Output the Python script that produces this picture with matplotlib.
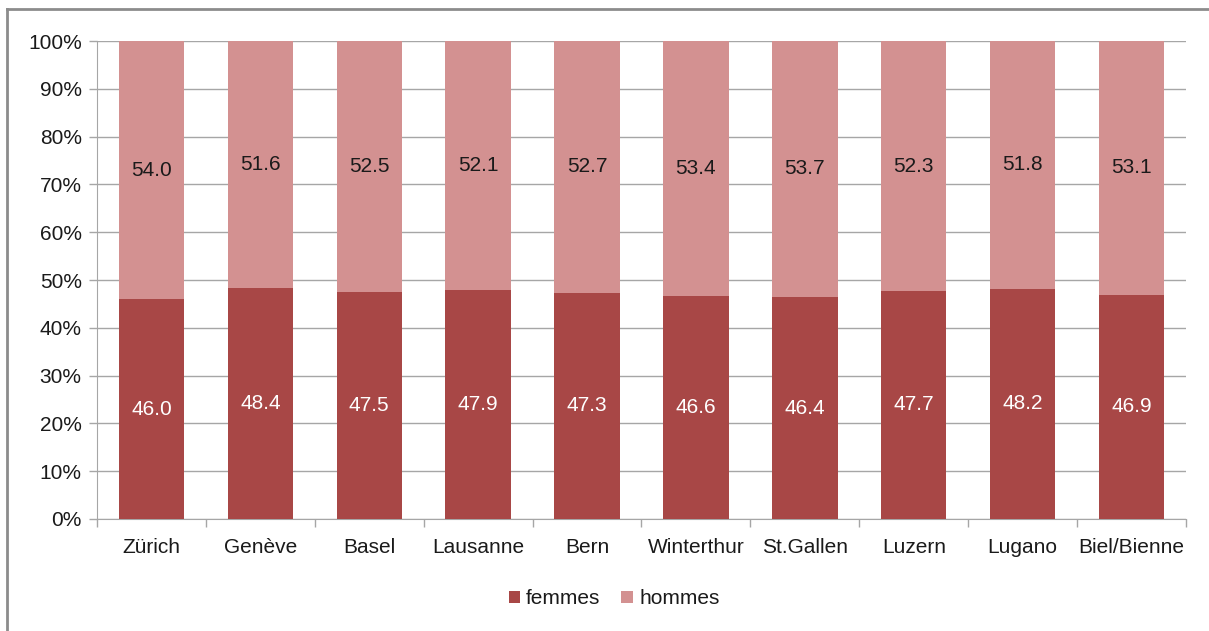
import numpy as np
import matplotlib.pyplot as plt
from matplotlib.lines import Line2D

plt.rcParams['font.family'] = ['Liberation Sans', 'DejaVu Sans']

cities = ['Zürich', 'Genève', 'Basel', 'Lausanne', 'Bern', 'Winterthur',
          'St.Gallen', 'Luzern', 'Lugano', 'Biel/Bienne']
femmes = [46.0, 48.4, 47.5, 47.9, 47.3, 46.6, 46.4, 47.7, 48.2, 46.9]
hommes = [54.0, 51.6, 52.5, 52.1, 52.7, 53.4, 53.7, 52.3, 51.8, 53.1]

c_f = '#A84746'
c_h = '#D39191'
grid_c = '#A6A6A6'
fs = 15

fig = plt.figure(figsize=(12.09, 6.31), dpi=100)
ax = fig.add_axes([0.0802, 0.1775, 0.9008, 0.7575])

x = np.arange(len(cities))
ax.bar(x, femmes, width=0.6, color=c_f, label='femmes', zorder=3)
ax.bar(x, hommes, width=0.6, bottom=femmes, color=c_h, label='hommes', zorder=3)

for i in range(len(cities)):
    ax.text(x[i], femmes[i] / 2, f'{femmes[i]:.1f}', ha='center', va='center',
            color='white', fontsize=fs, zorder=4)
    ax.text(x[i], femmes[i] + hommes[i] / 2, f'{hommes[i]:.1f}', ha='center',
            va='center', color='#1a1a1a', fontsize=fs, zorder=4)

ax.set_xlim(-0.5, len(cities) - 0.5)
ax.set_ylim(0, 100)
ax.set_yticks(np.arange(0, 101, 10))
ax.set_yticklabels([f'{v}%' for v in range(0, 101, 10)])
ax.yaxis.grid(True, color=grid_c, linewidth=1, zorder=0)
ax.set_xticks(x)
ax.set_xticklabels(cities)
ax.set_xticks(np.arange(-0.5, len(cities)), minor=True)
ax.tick_params(axis='x', which='major', length=0, pad=14, labelsize=fs,
               labelcolor='#1a1a1a')
ax.tick_params(axis='x', which='minor', length=6, color=grid_c, width=1)
ax.tick_params(axis='y', length=6, color=grid_c, width=1, labelsize=fs, pad=5,
               labelcolor='#1a1a1a')
for s in ['top', 'right']:
    ax.spines[s].set_visible(False)
for s in ['left', 'bottom']:
    ax.spines[s].set_color(grid_c)

leg = fig.legend(handles=ax.containers and [ax.containers[0], ax.containers[1]],
                 labels=['femmes', 'hommes'], loc='center',
                 bbox_to_anchor=(614 / 1209, 1 - 599 / 631), ncol=2, frameon=False,
                 fontsize=fs, handlelength=0.55, handleheight=0.55, handletextpad=0.3,
                 columnspacing=1.0)
for t in leg.get_texts():
    t.set_color('#1a1a1a')

# outer frame (only top and left edges visible)
fig.add_artist(Line2D([7 / 1209, 7 / 1209], [0, 1 - 9 / 631], color='#8C8C8C', lw=2))
fig.add_artist(Line2D([7 / 1209, 1], [1 - 9 / 631, 1 - 9 / 631], color='#8C8C8C', lw=2))

fig.savefig('out.png', dpi=100)
